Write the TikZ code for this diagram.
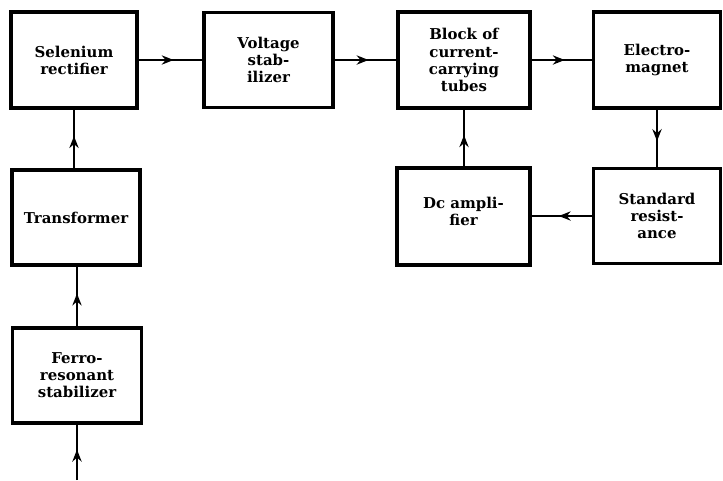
\documentclass[tikz,border=0pt]{standalone}
\usepackage{fontspec}
\setmainfont{DejaVu Serif}
\usetikzlibrary{arrows.meta,decorations.markings}
\begin{document}
\begin{tikzpicture}[x=0.75pt,y=-0.75pt,
  blk/.style={draw,line width=2.6pt,minimum width=#1,inner sep=0pt,align=center,
    font=\bfseries\fontsize{11.2}{12.8}\selectfont},
  conn/.style={line width=1.7pt,postaction={decorate},
    decoration={markings,mark=at position 0.55 with {\arrow[line width=1.2pt]{Stealth[length=9pt,width=7pt,inset=3pt]}}}}]
\useasboundingbox (0,0) rectangle (723,480);
\node[blk=126*0.75pt,minimum height=96*0.75pt] (sel) at (74,60) {Selenium\\rectifier};
\node[blk=129*0.75pt,minimum height=95*0.75pt] (vol) at (268.5,60) {Voltage\\stab-\\ilizer};
\node[blk=132*0.75pt,minimum height=96*0.75pt] (tub) at (464,60) {Block of\\current-\\carrying\\tubes};
\node[blk=127*0.75pt,minimum height=96*0.75pt] (ele) at (657,60) {Electro-\\magnet};
\node[blk=127*0.75pt,minimum height=95*0.75pt] (std) at (657,216) {Standard\\resist-\\ance};
\node[blk=133*0.75pt,minimum height=97*0.75pt] (dca) at (463.5,216.5) {};
\node[font=\bfseries\fontsize{11.2}{12.8}\selectfont,align=center,inner sep=0pt] (dcat) at (463.5,211) {Dc ampli-\\fier};
\node[blk=128*0.75pt,minimum height=95*0.75pt] (tra) at (76,217.5) {Transformer};
\node[blk=129*0.75pt,minimum height=95*0.75pt] (fer) at (77,375.5) {Ferro-\\resonant\\stabilizer};
\coordinate (in) at (77,480);
\draw[conn] (in) -- (fer.south);
\draw[conn] (fer.north) -- (fer.north |- tra.south);
\draw[conn] (tra.north -| sel.south) -- (sel.south);
\draw[conn] (sel.east) -- (vol.west);
\draw[conn] (vol.east) -- (tub.west);
\draw[conn] (tub.east) -- (ele.west);
\draw[conn] (ele.south) -- (std.north);
\draw[conn] (std.west) -- (std.west -| dca.east);
\draw[conn] (dca.north -| tub.south) -- (tub.south);
\end{tikzpicture}
\end{document}
